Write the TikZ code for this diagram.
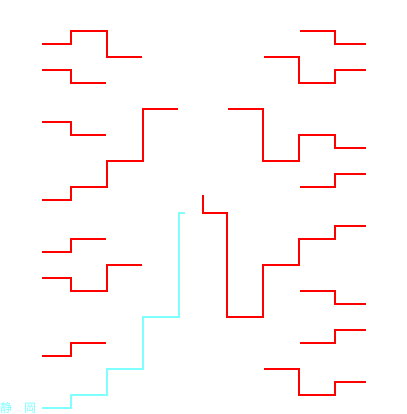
\documentclass[tikz,border=0pt]{standalone}
\usepackage{fontspec}
\newfontfamily\cjk{Noto Sans CJK JP}
\definecolor{winred}{RGB}{255,0,0}
\definecolor{wincyan}{RGB}{128,255,255}
\begin{document}
\begin{tikzpicture}[x=1bp,y=-1bp,
  redline/.style={draw=winred,line width=2bp},
  cyanline/.style={draw=wincyan,line width=2bp},
  lbl/.style={text=wincyan,font=\cjk\fontsize{12bp}{12bp}\selectfont,inner sep=0pt,anchor=west}]
\useasboundingbox (0,0) rectangle (407,414);
% left half
\draw[redline] (42,44)--(71,44)--(71,31)--(107,31)--(107,57)--(142,57);
\draw[redline] (42,70)--(71,70)--(71,83)--(106,83);
\draw[redline] (42,122)--(71,122)--(71,135)--(106,135);
\draw[redline] (42,200)--(71,200)--(71,187)--(107,187)--(107,161)--(143,161)--(143,109)--(178,109);
\draw[redline] (42,252)--(71,252)--(71,239)--(106,239);
\draw[redline] (42,278)--(71,278)--(71,291)--(107,291)--(107,265)--(142,265);
\draw[redline] (42,356)--(71,356)--(71,343)--(106,343);
\node[lbl] (shizuoka) at (0,408) {静　岡};
\draw[cyanline] (42,408)--(71,408)--(71,395)--(107,395)--(107,369)--(143,369)--(143,317)--(179,317)--(179,213)--(185,213);
% right half
\draw[redline] (300,31)--(335,31)--(335,44)--(366,44);
\draw[redline] (264,57)--(299,57)--(299,83)--(335,83)--(335,70)--(366,70);
\draw[redline] (228,109)--(263,109)--(263,161)--(299,161)--(299,135)--(335,135)--(335,148)--(366,148);
\draw[redline] (300,187)--(335,187)--(335,174)--(366,174);
\draw[redline] (203,195)--(203,213)--(227,213)--(227,317)--(263,317)--(263,265)--(299,265)--(299,239)--(335,239)--(335,226)--(366,226);
\draw[redline] (300,291)--(335,291)--(335,304)--(366,304);
\draw[redline] (300,343)--(335,343)--(335,330)--(366,330);
\draw[redline] (264,369)--(299,369)--(299,395)--(335,395)--(335,382)--(366,382);
\end{tikzpicture}
\end{document}
